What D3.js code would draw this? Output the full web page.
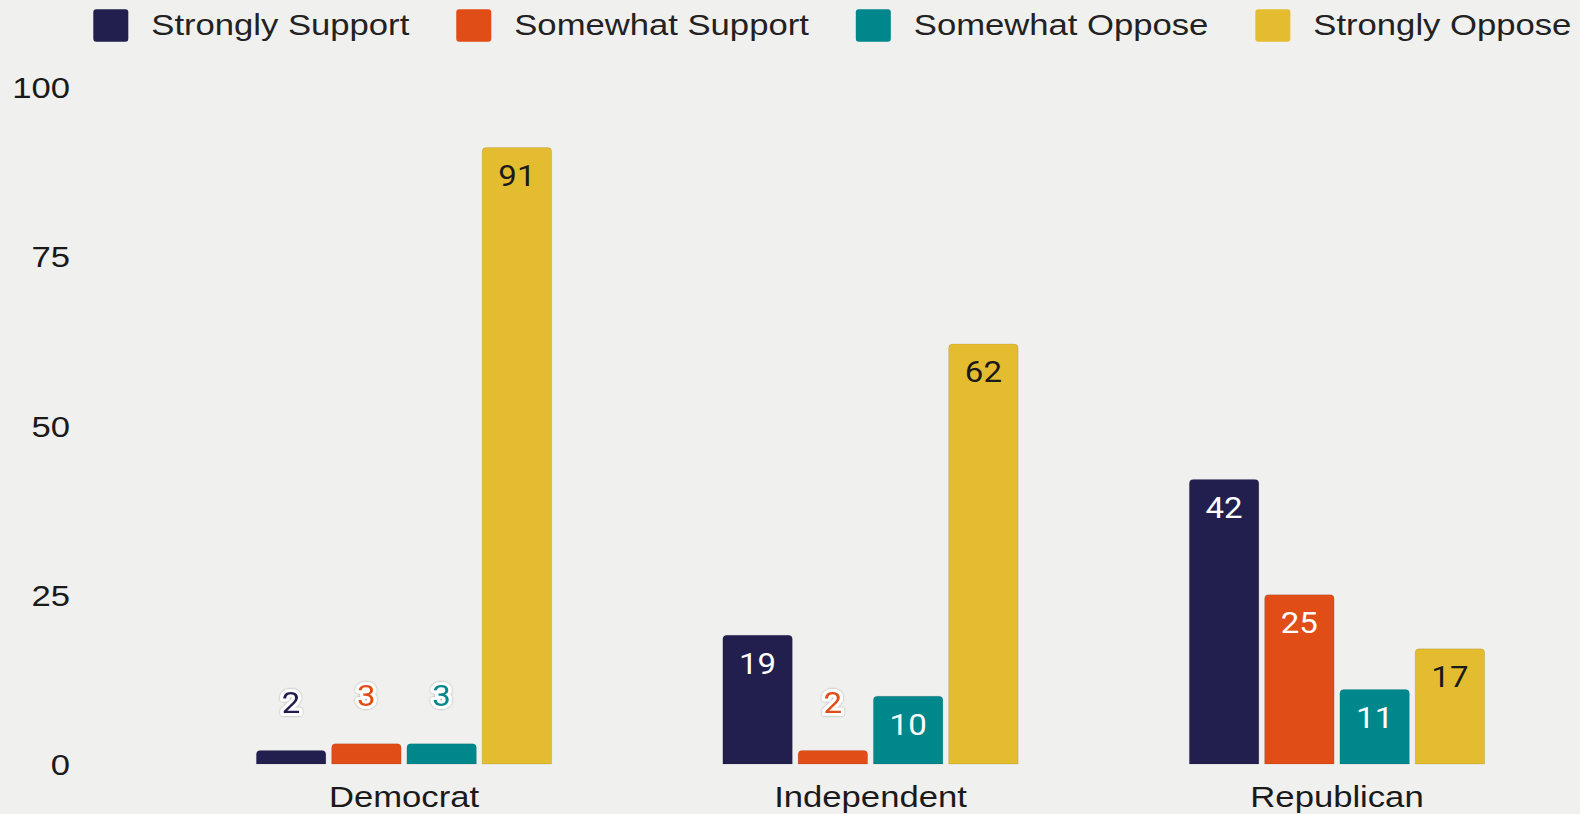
<!DOCTYPE html>
<html><head><meta charset="utf-8">
<script src="https://cdn.jsdelivr.net/npm/d3@7/dist/d3.min.js"></script>
<style>html,body{margin:0;padding:0;background:#f0f0ee;} svg{display:block}</style>
</head><body><svg id="c" width="1580" height="814"></svg>
<script>
const categories = ["Democrat", "Independent", "Republican"];
const seriesNames = ["Strongly Support", "Somewhat Support", "Somewhat Oppose", "Strongly Oppose"];
const stronglySupport = [2, 19, 42];
const somewhatSupport = [3, 2, 25];
const somewhatOppose = [3, 10, 11];
const stronglyOppose = [91, 62, 17];
const yTicks = [0, 25, 50, 75, 100];
const seriesColors = ["#221f4e", "#e14d17", "#00878c", "#e3bd2f"];
const labelColors = ["#ffffff", "#ffffff", "#ffffff", "#1a1a1a"];

const seriesValues = [stronglySupport, somewhatSupport, somewhatOppose, stronglyOppose];
const SX = 1.155; // horizontal stretch of axis/legend text
const LSX = 1.1; // horizontal stretch of value labels
const svg = d3.select("#c");
svg.append("rect").attr("width", 1580).attr("height", 814).attr("fill", "#f0f0ee");

const defs = svg.append("defs");
const f = defs.append("filter").attr("id", "halo").attr("x", "-50%").attr("y", "-50%").attr("width", "200%").attr("height", "200%");
f.append("feDropShadow").attr("dx", 0).attr("dy", 0).attr("stdDeviation", 0.8).attr("flood-color", "#000").attr("flood-opacity", 0.35);

const x = d3.scaleBand().domain(categories).range([170.75, 1570.25]).paddingInner(0.367).paddingOuter(0.1835);
const xi = d3.scaleBand().domain(seriesNames).range([0, x.bandwidth()]).paddingInner(0.077);
const y = d3.scaleLinear().domain([0, 100]).range([764, 86.5]);

// y axis
const ya = svg.append("g").attr("transform", "translate(70,0)")
  .call(d3.axisLeft(y).tickValues(yTicks).tickSize(0).tickPadding(0));
ya.select(".domain").remove();
ya.selectAll("text").attr("x", 0).attr("dy", "0.36em").attr("text-anchor", "end")
  .attr("transform", `scale(${SX},1)`)
  .style("font-family", "'Liberation Sans', Arial, sans-serif").style("font-size", "30px").attr("fill", "#1a1a1a");

// x axis
const xa = svg.append("g").attr("transform", `translate(0,${y(0)})`)
  .call(d3.axisBottom(x).tickSize(0).tickPadding(0));
xa.select(".domain").remove();
xa.selectAll("text").attr("y", 42.7).attr("dy", 0).attr("text-anchor", "middle")
  .attr("transform", `scale(${SX},1)`)
  .style("font-family", "'Liberation Sans', Arial, sans-serif").style("font-size", "30px").attr("fill", "#1a1a1a");

function topRounded(x0, y0, w, h, r) {
  r = Math.min(r, h, w / 2);
  return `M${x0},${y0 + h}V${y0 + r}Q${x0},${y0} ${x0 + r},${y0}H${x0 + w - r}Q${x0 + w},${y0} ${x0 + w},${y0 + r}V${y0 + h}Z`;
}

const data = [];
categories.forEach((c, ci) => seriesNames.forEach((s, si) => data.push({c, s, si, v: seriesValues[si][ci]})));

const bars = svg.append("g");
bars.selectAll("path").data(data).join("path")
  .attr("d", d => topRounded(x(d.c) + xi(d.s), y(d.v), xi.bandwidth(), y(0) - y(d.v), 4))
  .attr("fill", d => seriesColors[d.si])
  .attr("stroke", "rgba(0,0,0,0.12)").attr("stroke-width", 0.8);

const labels = svg.append("g").style("font-family", "Roboto, sans-serif").style("font-size", "30px");
labels.selectAll("text").data(data).join("text")
  .attr("transform", d => `translate(${x(d.c) + xi(d.s) + xi.bandwidth() / 2},${d.v >= 5 ? y(d.v) + 38.5 : y(d.v) - 37.5}) scale(${LSX},1)`)
  .attr("text-anchor", "middle")
  .attr("fill", d => d.v >= 5 ? labelColors[d.si] : seriesColors[d.si])
  .attr("stroke", d => d.v >= 5 ? "none" : "#ffffff")
  .attr("filter", d => d.v >= 5 ? null : "url(#halo)")
  .attr("stroke-width", 6).attr("stroke-linejoin", "round").attr("paint-order", "stroke")
  .text(d => d.v);

// legend
const lg = svg.append("g");
let lx = 93.3;
seriesNames.forEach((s, i) => {
  lg.append("rect").attr("x", lx).attr("y", 9.3).attr("width", 35).attr("height", 32.4).attr("rx", 3)
    .attr("fill", seriesColors[i]);
  const t = lg.append("text").attr("transform", `translate(${lx + 58},35) scale(${SX},1)`)
    .style("font-family", "'Liberation Sans', Arial, sans-serif").style("font-size", "30px").attr("fill", "#222")
    .text(s);
  lx += 58 + t.node().getComputedTextLength() * SX + 47;
});
</script></body></html>
